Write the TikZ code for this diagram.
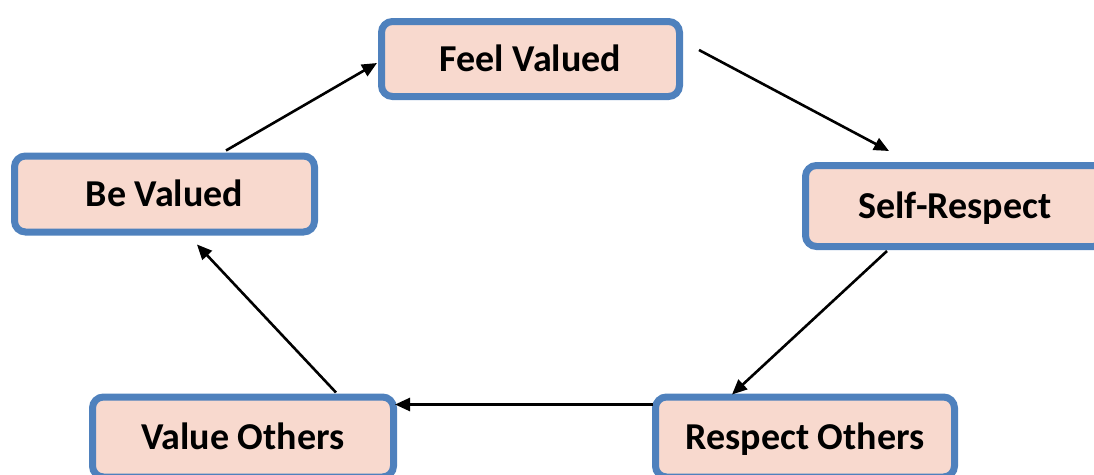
\documentclass[tikz,border=0pt]{standalone}
\usepackage{fontspec}
\setmainfont{Carlito}
\usetikzlibrary{arrows.meta}
\definecolor{boxblue}{HTML}{4F81BD}
\definecolor{boxfill}{HTML}{F8D9CE}
\tikzset{
  cyclebox/.style={draw=boxblue, fill=boxfill, line width=7pt, rounded corners=11pt,
    outer sep=0pt, inner sep=0pt, font=\fontsize{38}{42}\selectfont\bfseries,
    text height=24.5pt, text depth=0pt},
  arr/.style={line width=2.6pt, -{Triangle[length=15pt,width=13pt]}}
}
\begin{document}
\begin{tikzpicture}[x=1pt,y=-1pt]
\useasboundingbox (0,0) rectangle (1094,474);
\clip (0,0) rectangle (1094,474);
\node[cyclebox, minimum width=298pt, minimum height=75pt] (fv) at (530.5,59) {Feel Valued};
\node[cyclebox, minimum width=300pt, minimum height=76pt] (bv) at (164.5,194) {Be Valued};
\node[cyclebox, minimum width=299pt, minimum height=81pt] (sr) at (955,206) {Self-Respect};
\node[cyclebox, minimum width=299pt, minimum height=80pt] (ro) at (805,437) {Respect Others};
\node[cyclebox, minimum width=301pt, minimum height=80pt] (vo) at (243,437) {Value Others};
\draw[arr] ([xshift=211.5pt,yshift=5.5pt]bv.north west) -- ([xshift=-4.5pt,yshift=-4pt]fv.west);
\draw[arr] ([xshift=19.5pt,yshift=9pt]fv.east) -- ([xshift=83.5pt,yshift=14.5pt]sr.north west);
\draw[arr] ([xshift=81.5pt,yshift=-4.5pt]sr.south west) -- ([xshift=76.5pt,yshift=2.5pt]ro.north west);
\draw[arr] ([xshift=-2.5pt,yshift=-7.5pt]ro.north west) -- ([xshift=1.5pt,yshift=-7.5pt]vo.north east);
\draw[arr] ([xshift=243.5pt,yshift=4.5pt]vo.north west) -- ([xshift=182.5pt,yshift=-12.5pt]bv.south west);
\end{tikzpicture}
\end{document}
